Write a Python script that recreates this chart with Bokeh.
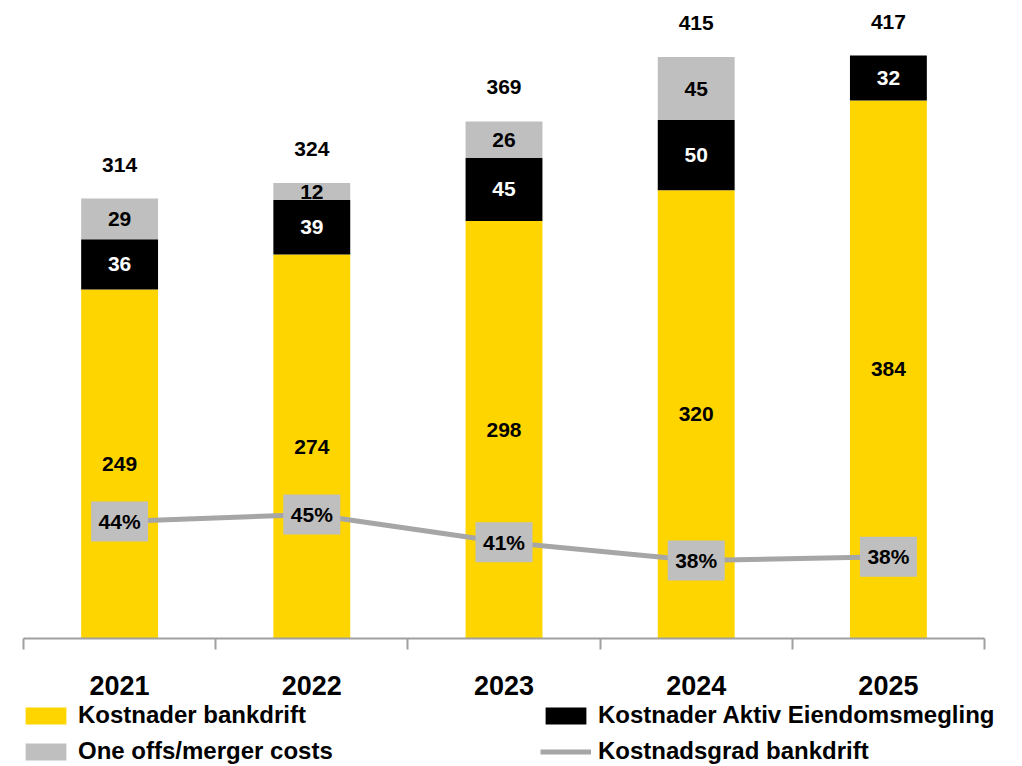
from bokeh.plotting import figure
from bokeh.layouts import column
from bokeh.models import (Range1d, LinearAxis, FixedTicker,
                          ColumnDataSource, Legend, LegendItem)
from bokeh.core.properties import value
from bokeh.embed import file_html
from bokeh.resources import INLINE

# ---- data ----
years = ["2021", "2022", "2023", "2024", "2025"]
bankdrift = [249, 274, 298, 320, 384]
aktiv = [36, 39, 45, 50, 32]
one_offs = [29, 12, 26, 45, 0]
totals = [314, 324, 369, 415, 417]
kostnadsgrad = [43.9, 45.0, 40.6, 37.7, 38.3]
pct_labels = ["44%", "45%", "41%", "38%", "38%"]
series_names = ["Kostnader bankdrift", "Kostnader Aktiv Eiendomsmegling",
                "One offs/merger costs", "Kostnadsgrad bankdrift"]

FONT = "Liberation Sans"
YELLOW = "#FFD500"
BLACK = "#000000"
GRAY = "#BFBFBF"
LINE_GRAY = "#A6A6A6"

n = len(years)
xpos = [i + 0.5 for i in range(n)]   # category centres
edges = list(range(n + 1))            # category boundaries

src = ColumnDataSource(dict(
    x=xpos, bank=bankdrift, aktiv=aktiv, oneoff=one_offs, total=totals,
    bank_mid=[b / 2 for b in bankdrift],
    aktiv_mid=[b + a / 2 for b, a in zip(bankdrift, aktiv)],
    stack_top=[b + a + o for b, a, o in zip(bankdrift, aktiv, one_offs)],
    bank_txt=[str(v) for v in bankdrift],
    aktiv_txt=[str(v) for v in aktiv],
    total_txt=[str(v) for v in totals],
))
oo_idx = [i for i, v in enumerate(one_offs) if v > 0]
oo_src = ColumnDataSource(dict(
    x=[xpos[i] for i in oo_idx],
    mid=[bankdrift[i] + aktiv[i] + one_offs[i] / 2 for i in oo_idx],
    txt=[str(one_offs[i]) for i in oo_idx],
))
pct_src = ColumnDataSource(dict(x=xpos, pct=kostnadsgrad, txt=pct_labels))

# ---------------- main chart ----------------
p = figure(x_range=Range1d(-0.1197, n + 0.1977), y_range=Range1d(0, 448.2),
           width=1022, height=700, output_backend="svg", toolbar_location=None,
           x_axis_location=None, y_axis_location=None,
           min_border_left=0, min_border_right=0, min_border_top=10, min_border_bottom=62)
p.outline_line_color = None
p.background_fill_color = "white"
p.xgrid.grid_line_color = None
p.ygrid.grid_line_color = None
p.extra_y_ranges = {"pct": Range1d(25.32, 125.0)}

bars = p.vbar_stack(["bank", "aktiv", "oneoff"], x="x", width=0.4,
                    color=[YELLOW, BLACK, GRAY], line_color=None, source=src)

common = dict(text_font=value(FONT), text_font_style="bold", text_align="center",
              text_baseline="middle")
p.text(x="x", y="bank_mid", text="bank_txt", source=src, text_color="black",
       text_font_size="21px", **common)
p.text(x="x", y="aktiv_mid", text="aktiv_txt", source=src, text_color="white",
       text_font_size="21px", **common)
p.text(x="x", y="mid", text="txt", source=oo_src, text_color="black",
       text_font_size="21px", **common)
p.text(x="x", y="stack_top", text="total_txt", source=src, text_color="black",
       text_font_size="21px", y_offset=-34, **common)

line_r = p.line(x="x", y="pct", source=pct_src, y_range_name="pct",
                line_color=LINE_GRAY, line_width=5)
p.rect(x="x", y="pct", source=pct_src, y_range_name="pct", width=57, height=40,
       width_units="screen", height_units="screen", fill_color=GRAY, line_color=None)
p.text(x="x", y="pct", text="txt", source=pct_src, y_range_name="pct",
       text_color="black", text_font_size="21px", **common)

edge_axis = LinearAxis(ticker=FixedTicker(ticks=edges), bounds=(0, n),
                       major_label_overrides={e: "" for e in edges},
                       major_label_text_font_size="0px", major_label_standoff=0,
                       major_tick_in=0, major_tick_out=11, minor_tick_line_color=None,
                       axis_line_color="#A0A0A0", major_tick_line_color="#A0A0A0",
                       axis_line_width=2, major_tick_line_width=2)
p.add_layout(edge_axis, "below")

cat_axis = LinearAxis(ticker=FixedTicker(ticks=xpos),
                      major_label_overrides={x: y for x, y in zip(xpos, years)},
                      axis_line_color=None, major_tick_line_color=None,
                      minor_tick_line_color=None,
                      major_tick_in=0, major_tick_out=0, major_label_standoff=26,
                      major_label_text_font=FONT, major_label_text_font_style="bold",
                      major_label_text_font_size="27px", major_label_text_color="black")
p.add_layout(cat_axis, "below")

# ---------------- legend strip ----------------
lg = figure(x_range=Range1d(0, 1), y_range=Range1d(0, 1), width=1022, height=66,
            output_backend="svg", toolbar_location=None,
            x_axis_location=None, y_axis_location=None,
            min_border_left=0, min_border_right=0, min_border_top=0, min_border_bottom=0)
lg.outline_line_color = None
lg.xgrid.grid_line_color = None
lg.ygrid.grid_line_color = None
# legend-only renderers, their single point lies outside the visible range
off = dict(x=[10], top=[0])
r_bank = lg.vbar(x="x", top="top", width=0.1, source=ColumnDataSource(off),
                 fill_color=YELLOW, line_color=None)
r_aktiv = lg.vbar(x="x", top="top", width=0.1, source=ColumnDataSource(off),
                  fill_color=BLACK, line_color=None)
r_oo = lg.vbar(x="x", top="top", width=0.1, source=ColumnDataSource(off),
               fill_color=GRAY, line_color=None)
r_line = lg.line(x=[10, 11], y=[10, 10], line_color=LINE_GRAY, line_width=5)

items = [
    LegendItem(label=series_names[0], renderers=[r_bank]),
    LegendItem(label=series_names[1], renderers=[r_aktiv]),
    LegendItem(label=series_names[2], renderers=[r_oo]),
    LegendItem(label=series_names[3], renderers=[r_line]),
]
legend = Legend(items=items, ncols=2, orientation="horizontal", location=(20, 1),
                margin=0, padding=0, border_line_color=None, background_fill_alpha=0,
                glyph_width=51, glyph_height=21, label_standoff=7, label_width=454,
                spacing=8, label_text_font=FONT, label_text_font_style="bold",
                label_text_font_size="24px", label_text_color="black")
lg.add_layout(legend, "center")

layout = column(p, lg, spacing=0)
open("out.html", "w").write(file_html(layout, INLINE))
